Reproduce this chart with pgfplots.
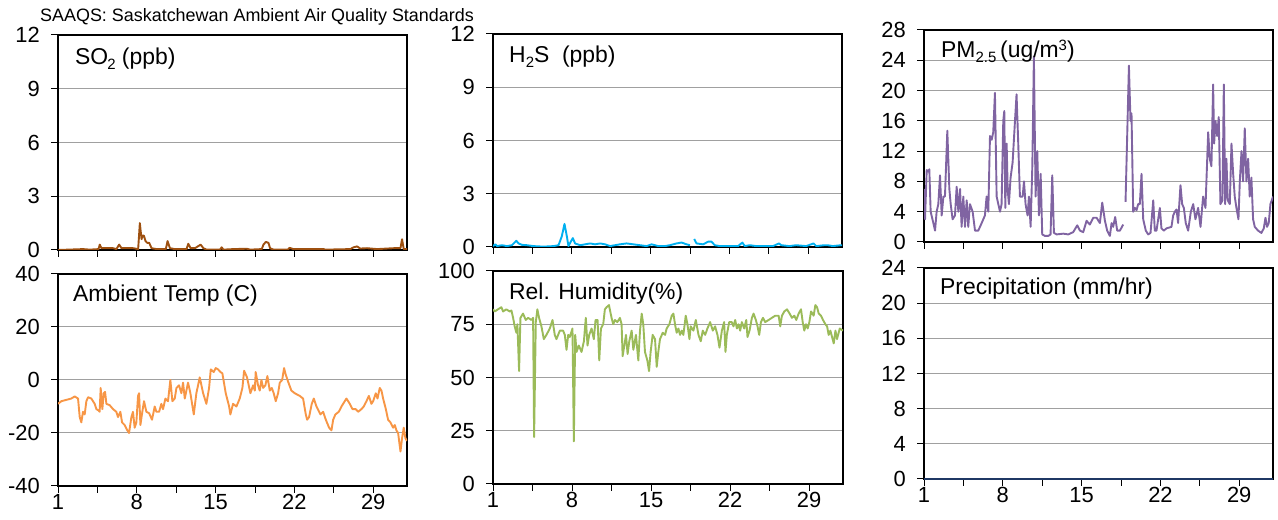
\documentclass[border=0pt]{standalone}
\usepackage{fontspec}
\setmainfont{Liberation Sans}
\usepackage{pgfplots}
\pgfplotsset{compat=1.18}
\definecolor{so2c}{RGB}{158,80,16}
\definecolor{h2sc}{RGB}{0,176,240}
\definecolor{pmc}{RGB}{128,100,162}
\definecolor{tmpc}{RGB}{247,150,70}
\definecolor{rhc}{RGB}{155,187,89}
\definecolor{prc}{RGB}{31,56,100}
\definecolor{gridc}{RGB}{160,160,160}
\pgfplotsset{panel/.style={
  scale only axis, xmin=1, xmax=32,
  xtick={1,4.5,8,11.5,15,18.5,22,25.5,29}, xticklabels={1,,8,,15,,22,,29},
  xtick pos=bottom, ytick pos=left,
  tick align=outside, major tick length=7bp,
  tick style={black, line width=1bp},
  ymajorgrids, grid style={gridc, line width=1bp},
  axis line style={black, line width=1.5bp},
  tick label style={font=\fontsize{22}{22}\selectfont, inner sep=1bp},
  yticklabel style={xshift=-10bp},
  /pgf/number format/assume math mode=true,
  unbounded coords=jump,
  every axis plot/.append style={line width=1.9bp, mark=none, line join=round},
},
toprow/.style={xticklabels={,,,,,,,,}}}
\newcommand\lab[1]{\fontsize{23}{23}\selectfont #1}
\newcommand\dn[1]{\raisebox{-5bp}{\fontsize{15}{15}\selectfont #1}}
\begin{document}
\begin{tikzpicture}[x=1bp,y=1bp]
\useasboundingbox (0,0) rectangle (1278,520);
\node[anchor=base west, inner sep=0pt] at (40,498.5) {\fontsize{18}{18}\selectfont SAAQS: Saskatchewan Ambient Air Quality Standards};
% SO2
\begin{axis}[panel, toprow, at={(58bp,270bp)}, anchor=south west, width=349bp, height=215bp,
  ymin=0, ymax=12, ytick={0,3,...,12}]
\addplot[so2c] coordinates {(1.00,0.0)(3.23,0.05)(3.82,0.02)(4.60,0.05)(4.71,0.3)(4.86,0.1)(5.90,0.1)(6.19,0.05)(6.43,0.3)(6.64,0.1)(7.68,0.1)(8.12,0.05)(8.27,1.5)(8.42,0.6)(8.51,0.8)(8.63,0.8)(8.77,0.5)(8.92,0.4)(9.10,0.4)(9.31,0.1)(9.75,0.05)(10.58,0.05)(10.73,0.5)(10.94,0.1)(11.39,0.05)(12.42,0.05)(12.57,0.35)(12.78,0.1)(13.17,0.1)(13.67,0.3)(13.91,0.1)(14.20,0.02)(15.39,0.02)(15.54,0.15)(15.69,0.02)(16.58,0.05)(17.77,0.07)(18.06,0.02)(19.10,0.05)(19.25,0.3)(19.46,0.45)(19.69,0.4)(19.84,0.1)(20.14,0.02)(21.42,0.02)(21.56,0.12)(21.92,0.05)(23.11,0.05)(24.59,0.05)(24.74,0.02)(26.96,0.05)(27.26,0.15)(27.56,0.2)(27.85,0.08)(28.45,0.1)(29.34,0.05)(30.82,0.1)(31.42,0.1)(31.56,0.6)(31.71,0.05)(32.00,0.05)};
\end{axis}
\node[anchor=base west, inner sep=0pt] at (75,455) {\lab{SO\kern-1bp\dn{2} (ppb)}};
% H2S
\begin{axis}[panel, toprow, at={(493bp,273bp)}, anchor=south west, width=349bp, height=213bp,
  ymin=0, ymax=12, ytick={0,3,...,12}]
\addplot[h2sc] coordinates {(1.00,0.05)(1.21,0.15)(1.35,0.05)(1.80,0.1)(2.24,0.05)(2.68,0.1)(3.07,0.35)(3.27,0.2)(3.57,0.12)(4.01,0.1)(4.60,0.05)(5.49,0.02)(6.38,0.05)(6.82,0.1)(7.11,0.6)(7.35,1.3)(7.56,0.6)(7.70,0.05)(7.91,0.3)(8.09,0.5)(8.29,0.2)(8.74,0.1)(9.18,0.15)(9.62,0.2)(10.07,0.15)(10.51,0.2)(10.95,0.15)(11.40,0.05)(11.84,0.1)(12.28,0.15)(12.87,0.2)(13.46,0.15)(14.05,0.1)(14.64,0.05)(15.09,0.15)(15.68,0.05)(16.27,0.05)(16.71,0.1)(17.30,0.2)(17.75,0.25)(18.19,0.15)(18.49,0.1)(18.70,nan)(18.87,0.45)(19.08,0.2)(19.67,0.15)(20.11,0.3)(20.40,0.3)(20.70,0.1)(21.14,0.05)(21.73,0.05)(22.32,0.05)(22.77,0.05)(23.15,0.25)(23.36,0.05)(23.80,0.1)(24.39,0.05)(24.98,0.05)(25.87,0.05)(26.40,0.2)(26.61,0.1)(27.34,0.05)(27.93,0.1)(28.82,0.05)(29.47,0.2)(29.71,0.05)(30.44,0.1)(30.74,0.1)(31.18,0.05)(31.92,0.1)(32.00,0.1)};
\end{axis}
\node[anchor=base west, inner sep=0pt] at (509,457) {\lab{H\dn{2}S\ \ (ppb)}};
% PM2.5
\begin{axis}[panel, toprow, at={(924bp,278bp)}, anchor=south west, width=349bp, height=212bp,
  ymin=0, ymax=28, ytick={0,4,...,28}]
\addplot[pmc] coordinates {(1.00,7)(1.09,3)(1.24,9.5)(1.38,9.3)(1.47,9.6)(1.59,4)(1.83,2.5)(1.98,1.5)(2.12,4)(2.27,5)(2.42,8.8)(2.57,3.5)(2.72,6)(2.86,6)(3.07,14.7)(3.25,7)(3.37,5)(3.54,3)(3.75,3.5)(3.90,7.3)(4.05,4)(4.20,7)(4.34,2)(4.49,6)(4.64,2)(4.79,5.5)(4.93,2)(5.08,5)(5.32,4)(5.53,1.5)(5.82,1.5)(6.12,2.5)(6.41,3.5)(6.56,6)(6.71,4)(6.86,14)(7.01,13.5)(7.15,14.5)(7.30,19.7)(7.45,6)(7.60,5)(7.75,4)(7.89,5)(8.04,16)(8.13,17.3)(8.22,4.5)(8.34,13)(8.43,7)(8.54,5)(8.69,8.5)(8.87,10.5)(9.08,16)(9.22,19.5)(9.37,13)(9.52,6)(9.76,6)(9.88,8)(10.02,5)(10.20,3.5)(10.32,6)(10.47,2)(10.62,10)(10.76,24.5)(10.91,6)(11.06,12)(11.21,3.5)(11.36,9)(11.50,1)(11.74,0.8)(12.04,0.8)(12.24,1)(12.39,8.8)(12.54,1.2)(12.78,1)(13.37,1.1)(13.81,1)(14.25,1.3)(14.61,2.2)(14.85,1.5)(15.14,1.3)(15.44,2.8)(15.73,2.3)(16.03,3.2)(16.33,3.2)(16.62,2.5)(16.83,5.2)(17.07,2.8)(17.27,1.5)(17.51,0.8)(17.66,2.5)(17.80,2)(17.98,3.3)(18.16,1.5)(18.40,1.5)(18.69,2.3)(18.80,nan)(18.90,5.3)(19.08,16)(19.20,23.3)(19.34,16)(19.43,17)(19.58,4)(19.73,4.5)(19.88,4.2)(20.02,5)(20.17,5)(20.32,9)(20.47,3)(20.70,1.5)(20.91,1)(21.12,1.2)(21.36,5.5)(21.50,1.5)(21.65,1.5)(21.95,4.5)(22.09,1.8)(22.30,1.5)(22.54,1.8)(22.98,2.0)(23.13,3.5)(23.28,4)(23.43,4.3)(23.57,2.5)(23.78,7.5)(23.93,5)(24.08,4.5)(24.25,2.5)(24.46,1.5)(24.70,4)(24.91,5)(25.11,3)(25.35,4.5)(25.56,2)(25.79,6)(26.00,4.5)(26.24,14.5)(26.38,11)(26.53,10)(26.68,20.8)(26.77,13)(26.89,16)(27.04,14)(27.18,16.5)(27.33,5)(27.51,5.5)(27.63,20.8)(27.75,5)(27.86,11)(27.98,5.5)(28.16,5)(28.31,13)(28.46,9)(28.60,6)(28.75,4.5)(28.93,3)(29.05,8)(29.20,12)(29.34,8)(29.49,15)(29.64,8)(29.79,11)(29.93,6)(30.08,8.5)(30.23,3)(30.38,2)(30.67,1.5)(30.97,1.2)(31.18,1.8)(31.33,3.2)(31.47,2)(31.62,2.5)(31.77,5)(32.00,6)};
\end{axis}
\node[anchor=base west, inner sep=0pt] at (941,462) {\lab{PM\dn{2.5}\,(ug/m\raisebox{7bp}{\fontsize{15}{15}\selectfont 3})}};
% Temp
\begin{axis}[panel, at={(58bp,34bp)}, anchor=south west, width=349bp, height=212bp,
  ymin=-40, ymax=40, ytick={-40,-20,...,40}]
\addplot[tmpc] coordinates {(1.00,-9)(1.30,-8)(1.74,-7.5)(2.18,-7)(2.48,-6.2)(2.78,-7)(2.93,-14)(3.07,-16)(3.22,-12)(3.37,-13)(3.52,-8)(3.67,-6.5)(3.96,-7)(4.26,-9)(4.41,-11)(4.61,-11.5)(4.70,-12)(4.79,-3)(4.94,-11)(5.06,-5)(5.18,-4.5)(5.30,-9)(5.59,-9.5)(5.89,-11)(6.18,-12)(6.33,-14)(6.54,-12)(6.69,-16)(6.92,-17)(7.16,-19)(7.31,-20)(7.52,-14)(7.66,-12)(7.81,-18)(7.96,-16)(8.11,-6)(8.20,-5)(8.32,-17)(8.49,-12)(8.64,-8)(8.85,-12)(9.09,-12.5)(9.35,-15)(9.59,-10)(9.74,-12)(9.98,-12)(10.18,-9)(10.33,-11)(10.54,-7)(10.77,-8)(10.98,0)(11.16,-8)(11.37,-7)(11.52,-3)(11.75,-2)(11.96,-5)(12.11,-1)(12.26,-7)(12.55,-1)(12.76,-5)(13.06,-13)(13.29,-5)(13.59,1)(13.74,-2)(13.89,-5)(14.18,-9)(14.42,-3)(14.57,4)(14.83,3)(15.01,4.5)(15.22,4)(15.43,3)(15.60,2.5)(15.90,-5)(16.20,-10)(16.31,-13)(16.55,-9)(16.85,-10)(17.14,-7)(17.38,-3)(17.53,3.5)(17.79,1)(18.09,-5)(18.33,-2)(18.48,-4)(18.56,3)(18.77,-2)(18.92,-4)(19.07,0)(19.22,-3)(19.42,-2)(19.60,1.5)(19.81,-4)(19.99,-3)(20.16,-5)(20.34,-8)(20.55,-5)(20.70,-1)(20.91,0)(21.08,4.5)(21.23,2)(21.47,-1)(21.73,-4)(22.03,-5)(22.47,-6)(22.77,-7)(23.01,-13)(23.13,-15)(23.30,-14)(23.54,-9)(23.72,-7)(23.96,-10)(24.31,-13)(24.55,-12)(24.79,-15)(25.08,-18)(25.29,-19)(25.44,-15)(25.64,-13)(25.94,-12)(26.18,-10)(26.47,-8)(26.62,-7)(26.92,-9)(27.16,-11)(27.45,-11)(27.66,-12)(27.95,-11)(28.16,-10)(28.40,-8)(28.61,-6)(28.84,-9)(28.99,-8)(29.23,-5)(29.38,-7)(29.58,-3)(29.73,-4)(29.88,-7)(30.12,-11)(30.32,-15)(30.53,-16)(30.77,-18)(30.92,-17)(31.06,-19)(31.21,-20)(31.42,-27)(31.56,-22)(31.71,-18)(31.86,-22)(32.00,-23)};
\end{axis}
\node[anchor=base west, inner sep=0pt] at (73,218.5) {\lab{Ambient Temp (C)}};
% RH
\begin{axis}[panel, at={(493bp,36bp)}, anchor=south west, width=350bp, height=213bp,
  ymin=0, ymax=100, ytick={0,25,...,100}]
\addplot[rhc] coordinates {(1.00,82)(1.15,81)(1.44,82)(1.74,83)(1.89,81)(2.18,82)(2.48,81)(2.63,81.5)(2.78,78)(2.92,74)(3.07,71)(3.16,75)(3.31,53)(3.43,78)(3.66,80)(3.90,77)(4.11,78)(4.40,77)(4.55,78)(4.64,22)(4.79,76)(4.93,82)(5.08,78)(5.29,74)(5.50,68)(5.73,70)(6.03,73)(6.27,77)(6.47,70)(6.62,68)(6.92,72)(7.21,72)(7.36,70)(7.51,63)(7.66,70)(7.80,69)(8.04,73)(8.16,20)(8.28,70)(8.40,62)(8.60,65)(8.84,62)(9.05,67)(9.22,78)(9.37,65)(9.52,70)(9.73,73)(9.93,68)(10.08,77)(10.26,77)(10.41,58)(10.56,73)(10.76,75)(10.91,82)(11.06,83)(11.27,84)(11.50,78)(11.65,75)(11.80,77)(12.01,76)(12.24,78)(12.39,75)(12.48,60)(12.63,65)(12.78,70)(12.92,61)(13.07,67)(13.28,72)(13.43,63)(13.66,70)(13.87,58)(14.02,72)(14.17,80)(14.31,75)(14.46,62)(14.67,58)(14.82,53)(14.96,62)(15.14,70)(15.35,68)(15.50,55)(15.64,62)(15.79,68)(16.03,71)(16.24,70)(16.38,73)(16.62,75)(16.83,79)(16.98,80)(17.12,75)(17.27,71)(17.42,73)(17.57,70)(17.72,72)(17.86,70)(18.07,79)(18.22,75)(18.40,68)(18.51,74)(18.75,72)(18.96,77)(19.20,70)(19.40,67)(19.58,72)(19.79,70)(19.99,73)(20.23,76)(20.47,72)(20.67,74)(20.88,70)(21.06,64)(21.27,72)(21.47,76)(21.59,62)(21.71,70)(21.92,76)(22.15,76)(22.30,74)(22.45,77)(22.60,73)(22.75,75)(22.89,72)(23.04,76)(23.25,73)(23.43,77)(23.54,69)(23.72,72)(23.93,78)(24.08,80)(24.28,77)(24.43,74)(24.58,70)(24.73,76)(24.91,78)(25.11,76)(25.41,77)(25.70,78)(26.00,79)(26.30,79)(26.44,74)(26.59,79)(26.80,81)(27.04,82)(27.27,80)(27.48,78)(27.69,79)(27.86,77)(28.07,80)(28.28,82)(28.43,76)(28.57,72)(28.72,75)(28.87,73)(29.02,76)(29.17,81)(29.40,79)(29.55,84)(29.70,83)(29.85,80)(30.05,79)(30.23,77)(30.44,75)(30.59,74)(30.73,70)(30.88,72)(31.03,69)(31.18,66)(31.33,72)(31.47,68)(31.71,73)(32.00,72)};
\end{axis}
\node[anchor=base west, inner sep=0pt] at (509,220) {\lab{Rel. Humidity(\%)}};
% Precip
\begin{axis}[panel, at={(924bp,41bp)}, anchor=south west, width=349bp, height=211bp,
  ymin=0, ymax=24, ytick={0,4,...,24}, clip=false]
\addplot[prc, line width=2.2bp] coordinates {(1,0)(32,0)};
\end{axis}
\node[anchor=base west, inner sep=0pt] at (940,225) {\lab{Precipitation (mm/hr)}};
\end{tikzpicture}
\end{document}
